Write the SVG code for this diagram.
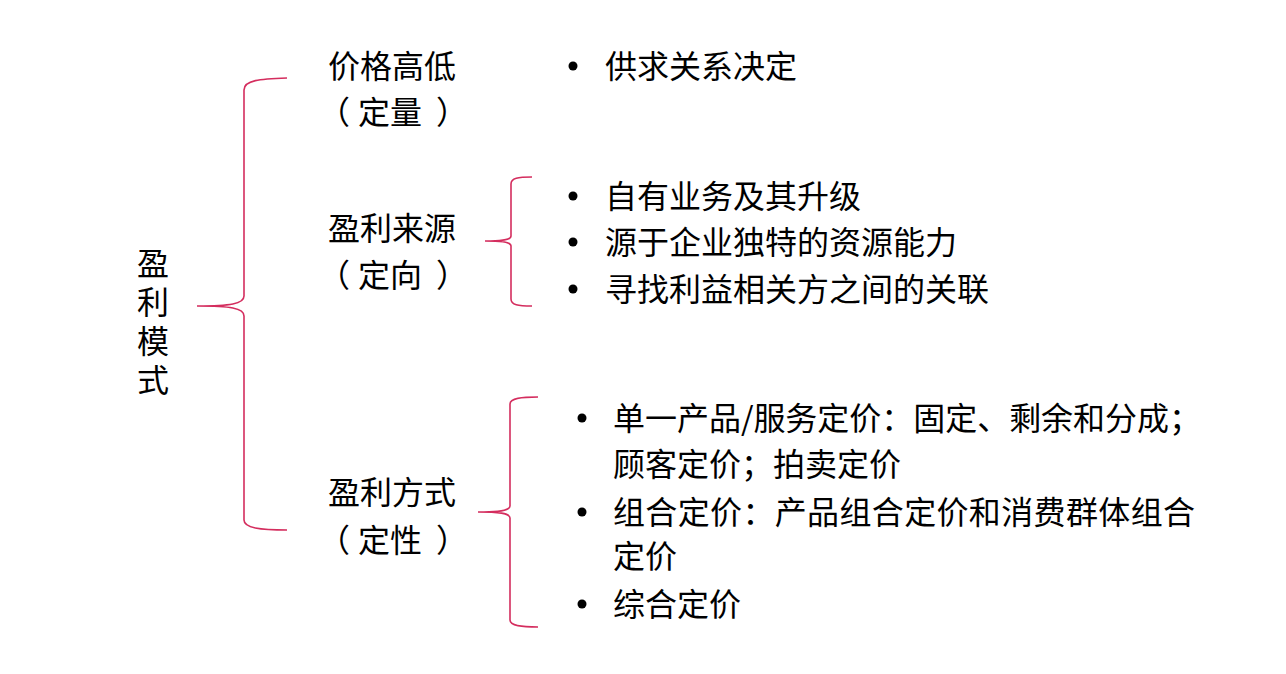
<svg xmlns="http://www.w3.org/2000/svg" width="1286" height="674" viewBox="0 0 1286 674">
<style>
.t{font-family:"Microsoft YaHei","Noto Sans CJK SC","Noto Sans",sans-serif;font-size:32px;fill:#000}
.v{writing-mode:vertical-rl;letter-spacing:7px}
.b{fill:none;stroke:#d42d5e;stroke-width:1.6}
.d{fill:#000}
</style>
<rect width="1286" height="674" fill="#fff"/>
<g id="connectors">
<path class="b" d="M287,78 C260,79 244,80 244,90 L244,296 C244,304 230,306 197,306 C230,306 244,308 244,316 L244,520 C244,528 260,530 287,530"/>
<path class="b" d="M532,177 C518,177 511,178 511,184 L511,236 C511,240 502,241 485,241 C502,241 511,242 511,246 L511,299 C511,305 518,306 532,306"/>
<path class="b" d="M538,397 C522,397 510,398 510,404 L510,506 C510,511 498,512 478,512 C498,512 510,513 510,518 L510,620 C510,626 522,627 538,627"/>
</g>
<g id="root">
<text class="t v" x="153" y="247">盈利模式</text>
</g>
<g id="n1">
<text class="t" x="328" y="78">价格高低</text>
<text class="t" y="124"><tspan x="318">（</tspan><tspan x="358">定量</tspan><tspan x="436">）</tspan></text>
</g>
<g id="n2">
<text class="t" x="328" y="240">盈利来源</text>
<text class="t" y="287"><tspan x="318">（</tspan><tspan x="358">定向</tspan><tspan x="436">）</tspan></text>
</g>
<g id="n3">
<text class="t" x="328" y="504">盈利方式</text>
<text class="t" y="552"><tspan x="318">（</tspan><tspan x="358">定性</tspan><tspan x="436">）</tspan></text>
</g>
<g id="l1">
<circle class="d" cx="573" cy="66" r="4.5"/>
<text class="t" x="605" y="78">供求关系决定</text>
</g>
<g id="l2">
<circle class="d" cx="573" cy="196" r="4.5"/>
<text class="t" x="605" y="208">自有业务及其升级</text>
<circle class="d" cx="573" cy="242" r="4.5"/>
<text class="t" x="605" y="254">源于企业独特的资源能力</text>
<circle class="d" cx="573" cy="289" r="4.5"/>
<text class="t" x="605" y="301">寻找利益相关方之间的关联</text>
</g>
<g id="l3">
<circle class="d" cx="582" cy="418" r="4.5"/>
<text class="t" x="613" y="430" textLength="588" lengthAdjust="spacing">单一产品/服务定价：固定、剩余和分成；</text>
<text class="t" x="613" y="476">顾客定价；拍卖定价</text>
<circle class="d" cx="582" cy="512" r="4.5"/>
<text class="t" x="613" y="524" textLength="582" lengthAdjust="spacing">组合定价：产品组合定价和消费群体组合</text>
<text class="t" x="613" y="568">定价</text>
<circle class="d" cx="582" cy="604" r="4.5"/>
<text class="t" x="613" y="616">综合定价</text>
</g>
</svg>
